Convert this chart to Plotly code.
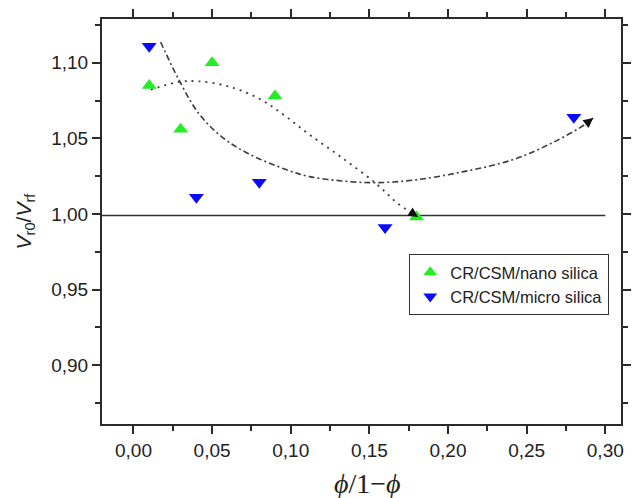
import plotly.graph_objects as go

# Measured points
nano_x = [0.01, 0.03, 0.05, 0.09, 0.18]
nano_y = [1.085, 1.056, 1.100, 1.078, 0.998]

micro_x = [0.01, 0.04, 0.08, 0.16, 0.28]
micro_y = [1.111, 1.011, 1.021, 0.991, 1.064]

# Trend curves (traced guide lines), last pair is the arrow tail -> tip
nano_trend_x = [0.011, 0.029, 0.041, 0.060, 0.079, 0.095, 0.112, 0.133, 0.154, 0.168, 0.1767, 0.181]
nano_trend_y = [1.0823, 1.0874, 1.0878, 1.0845, 1.0768, 1.0660, 1.0524, 1.0369, 1.0203, 1.0070, 1.0009, 0.9980]

micro_trend_x = [0.0173, 0.0288, 0.0413, 0.0558, 0.0725, 0.0975, 0.112, 0.133, 0.154, 0.179, 0.210, 0.241, 0.266, 0.2874, 0.2923]
micro_trend_y = [1.1137, 1.0889, 1.0668, 1.0513, 1.0402, 1.0292, 1.0247, 1.0218, 1.0207, 1.0225, 1.0280, 1.0358, 1.0469, 1.0594, 1.0635]

# Reference level
ref_x = [-0.02, 0.30]
ref_y = [0.999, 0.999]

x_range = [-0.02, 0.31]
y_range = [0.861, 1.129]

curve_color = "#3c3c3c"
axis_color = "#2b2b2b"

fig = go.Figure()

fig.add_trace(go.Scatter(
    x=ref_x, y=ref_y, mode="lines",
    line=dict(color="#333333", width=1.5),
    showlegend=False, hoverinfo="skip"))

fig.add_trace(go.Scatter(
    x=nano_trend_x, y=nano_trend_y, mode="lines",
    line=dict(color=curve_color, width=1.8, dash="2px,5px", shape="spline"),
    showlegend=False, hoverinfo="skip"))

fig.add_trace(go.Scatter(
    x=micro_trend_x, y=micro_trend_y, mode="lines",
    line=dict(color=curve_color, width=1.6, dash="6px,3px,2px,3px", shape="spline"),
    showlegend=False, hoverinfo="skip"))

fig.add_trace(go.Scatter(
    x=nano_x, y=nano_y, mode="markers", name="CR/CSM/nano silica",
    marker=dict(symbol="triangle-up", size=13, color="#22ee22")))

fig.add_trace(go.Scatter(
    x=micro_x, y=micro_y, mode="markers", name="CR/CSM/micro silica",
    marker=dict(symbol="triangle-down", size=13, color="#0a0aff")))

# Arrowheads at the ends of the trend curves
for cx, cy in ((nano_trend_x, nano_trend_y), (micro_trend_x, micro_trend_y)):
    fig.add_annotation(
        x=cx[-1], y=cy[-1], ax=cx[-2], ay=cy[-2],
        xref="x", yref="y", axref="x", ayref="y",
        showarrow=True, arrowhead=2, arrowsize=1.3, arrowwidth=1.5,
        arrowcolor="#111111", text="", standoff=0, startstandoff=0)

# x-axis label
fig.add_annotation(
    text="<i>ϕ</i>/1−<i>ϕ</i>", xref="paper", yref="paper",
    x=0.511, y=-0.148, xanchor="center", yanchor="middle", showarrow=False,
    font=dict(family="Liberation Serif, Times New Roman", size=28, color="#222222"))

axis_common = dict(
    showline=True, linewidth=2, linecolor=axis_color, mirror="allticks",
    ticks="outside", ticklen=8, tickwidth=1.5, tickcolor=axis_color,
    showgrid=False, zeroline=False,
    tickfont=dict(family="Liberation Sans, Arial", size=19, color="#222222"),
)

fig.update_xaxes(
    range=x_range, tickvals=[0.0, 0.05, 0.10, 0.15, 0.20, 0.25, 0.30],
    tickformat=".2f",
    minor=dict(dtick=0.025, tick0=0, ticks="outside", ticklen=5, tickwidth=1.5, tickcolor=axis_color),
    **axis_common)

fig.update_yaxes(
    range=y_range, tickvals=[0.90, 0.95, 1.00, 1.05, 1.10],
    tickformat=".2f",
    minor=dict(dtick=0.025, tick0=0.875, ticks="outside", ticklen=5, tickwidth=1.5, tickcolor=axis_color),
    title=dict(text="<i>V</i><sub>r0</sub>/<i>V</i><sub>rf</sub>", standoff=14,
               font=dict(family="Liberation Sans, Arial", size=21, color="#222222")),
    **axis_common)

fig.update_layout(
    width=639, height=498,
    margin=dict(l=102, r=8, t=19, b=74),
    paper_bgcolor="white", plot_bgcolor="white",
    separators=",.",
    legend=dict(
        x=0.592, y=0.42, xanchor="left", yanchor="top",
        bgcolor="white", bordercolor="#333333", borderwidth=1,
        font=dict(family="Liberation Sans, Arial", size=16.5, color="#222222"),
        itemsizing="constant", tracegroupgap=0,
    ),
)

fig.write_html("out.html")
